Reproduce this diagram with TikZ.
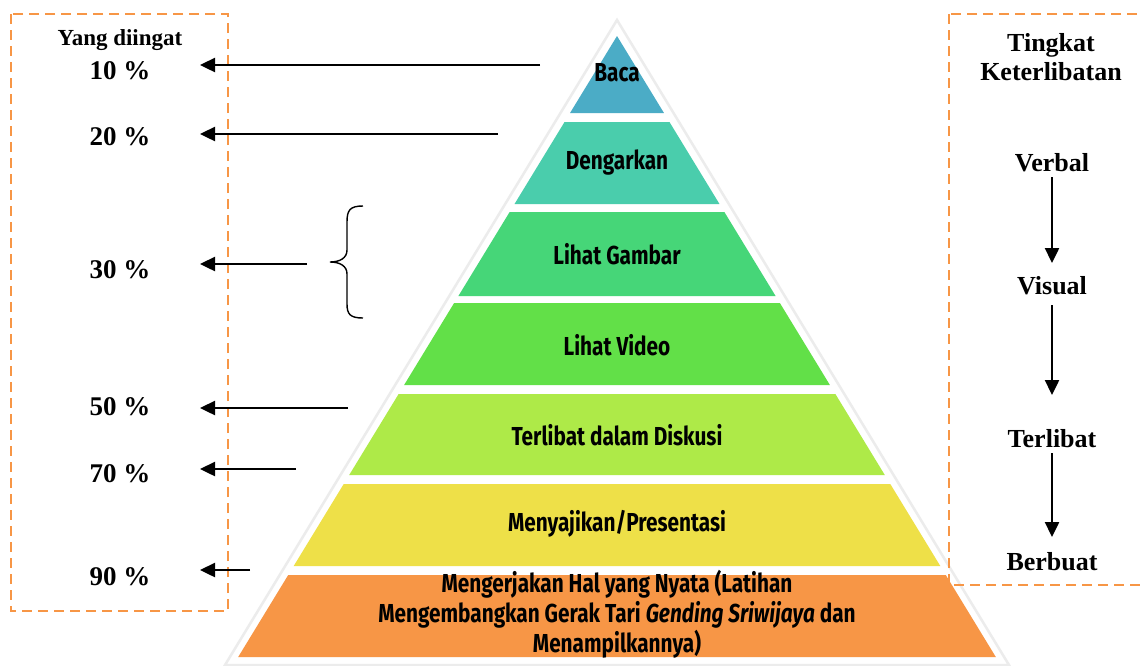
\documentclass[tikz,border=0pt]{standalone}
\usepackage{fontspec}
\setmainfont{Liberation Serif}
\newfontfamily\pyrfont[FakeStretch=0.8]{Fira Sans}
\usetikzlibrary{arrows.meta}
\definecolor{cBaca}{RGB}{75,172,198}
\definecolor{cDengar}{RGB}{74,205,172}
\definecolor{cGambar}{RGB}{70,214,120}
\definecolor{cVideo}{RGB}{98,224,72}
\definecolor{cDiskusi}{RGB}{174,234,72}
\definecolor{cSaji}{RGB}{238,224,72}
\definecolor{cNyata}{RGB}{247,150,70}
\definecolor{cDash}{RGB}{247,150,70}
\newcommand\pyrlevel[3]{%
  \pgfmathsetmacro\xa{0.61*(#1-36)}%
  \pgfmathsetmacro\xb{0.61*(#2-36)}%
  \fill[#3] (617-\xa,#1) -- (617+\xa,#1) -- (617+\xb,#2) -- (617-\xb,#2) -- cycle;}
\tikzset{
  lvltext/.style={font=\pyrfont\bfseries\fontsize{26}{30}\selectfont, text=black, align=center, inner sep=0pt},
  pct/.style={font=\bfseries\fontsize{27}{30}\selectfont, inner sep=0pt},
  hdr/.style={font=\bfseries\fontsize{26}{29}\selectfont, align=center, inner sep=0pt},
  lefthdr/.style={font=\bfseries\fontsize{23}{26}\selectfont, inner sep=0pt},
  larrow/.style={line width=2.4pt, -{Triangle[length=15pt,width=14pt]}},
  dbox/.style={draw=cDash, line width=2.4pt, dash pattern=on 10pt off 6pt},
}
\begin{document}
\begin{tikzpicture}[x=1pt,y=-1pt]
\useasboundingbox (0,0) rectangle (1142,665);
\clip (0,0) rectangle (1142,665);
\fill[white] (0,0) rectangle (1142,665);
% outer white triangle with faint shadow
\draw[gray!15, line width=2.5pt, fill=white] (617,20) -- (1009,665) -- (225,665) -- cycle;
% pyramid levels
\pyrlevel{36}{113}{cBaca}
\pyrlevel{122}{204}{cDengar}
\pyrlevel{212}{296}{cGambar}
\pyrlevel{303}{385}{cVideo}
\pyrlevel{394}{475}{cDiskusi}
\pyrlevel{484}{566}{cSaji}
\pyrlevel{575}{657}{cNyata}
% level texts
\node[lvltext] (baca) at (617,73) {Baca};
\node[lvltext] (dengar) at (617,163) {Dengarkan};
\node[lvltext] (gambar) at (617,254) {Lihat Gambar};
\node[lvltext] (video) at (617,345) {Lihat Video};
\node[lvltext] (diskusi) at (617,435) {Terlibat dalam Diskusi};
\node[lvltext] (saji) at (617,524) {Menyajikan/Presentasi};
\node[lvltext] (nyata) at (617,614) {Mengerjakan Hal yang Nyata (Latihan\\Mengembangkan Gerak Tari \textit{Gending Sriwijaya} dan\\Menampilkannya)};
% dashed boxes
\draw[dbox] (11,14) rectangle (228,611);
\draw[dbox] (949,14) rectangle (1160,585);
% left texts
\node[lefthdr] (yang) at (120,40) {Yang diingat};
\node[pct] (p10) at (120,71) {10 \%};
\node[pct] (p20) at (120,137) {20 \%};
\node[pct] (p30) at (120,270) {30 \%};
\node[pct] (p50) at (120,407) {50 \%};
\node[pct] (p70) at (120,474) {70 \%};
\node[pct] (p90) at (120,577) {90 \%};
% left arrows
\coordinate (t10) at (540,65);  \coordinate (h10) at (200,65);
\coordinate (t20) at (498,134); \coordinate (h20) at (200,134);
\coordinate (t30) at (307,264); \coordinate (h30) at (200,264);
\coordinate (t50) at (348,408); \coordinate (h50) at (200,408);
\coordinate (t70) at (296,469); \coordinate (h70) at (200,469);
\coordinate (t90) at (250,570); \coordinate (h90) at (200,570);
\draw[larrow] (t10) -- (h10);
\draw[larrow] (t20) -- (h20);
\draw[larrow] (t30) -- (h30);
\draw[larrow] (t50) -- (h50);
\draw[larrow] (t70) -- (h70);
\draw[larrow] (t90) -- (h90);
% brace
\draw[line width=1.4pt] (363,206) .. controls (350,206) and (347,210) .. (347,222) -- (347,250)
  .. controls (347,258) and (340,262) .. (330,262)
  .. controls (340,262) and (347,266) .. (347,274) -- (347,304)
  .. controls (347,314) and (350,318) .. (363,318);
% right texts
\node[hdr] (tingkat) at (1051,57) {Tingkat\\Keterlibatan};
\node[hdr] (verbal) at (1052,163) {Verbal};
\node[hdr] (visual) at (1052,286) {Visual};
\node[hdr] (terlibat) at (1052,439) {Terlibat};
\node[hdr] (berbuat) at (1052,562) {Berbuat};
\coordinate (v1) at (1052,177); \coordinate (v2) at (1052,263);
\coordinate (v3) at (1052,305); \coordinate (v4) at (1052,395);
\coordinate (v5) at (1052,453); \coordinate (v6) at (1052,537);
\draw[larrow] (v1) -- (v2);
\draw[larrow] (v3) -- (v4);
\draw[larrow] (v5) -- (v6);
\end{tikzpicture}
\end{document}
